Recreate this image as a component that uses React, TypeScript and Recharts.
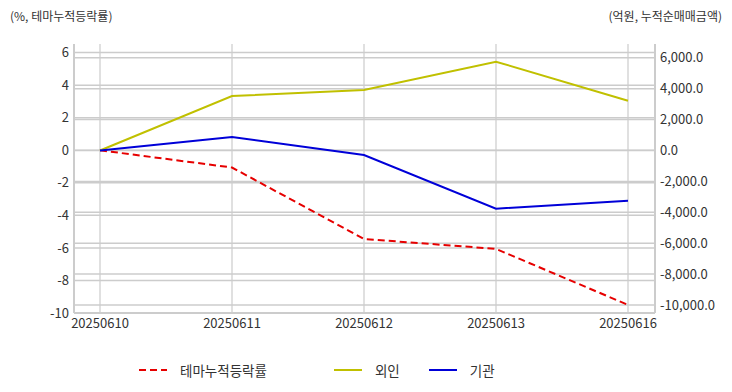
import { CartesianGrid, Legend, Line, LineChart, ReferenceLine, XAxis, YAxis } from "recharts";

const DATES = ["20250610", "20250611", "20250612", "20250613", "20250616"];
const THEME_RATE = [0, -1.06, -5.45, -6.06, -9.5];
const FOREIGN = [0, 3527, 3916, 5748, 3223];
const INSTITUTION = [0, 874, -291, -3767, -3249];

const LEFT_TICKS = [-10, -8, -6, -4, -2, 0, 2, 4, 6];
const RIGHT_TICKS = [-10000, -8000, -6000, -4000, -2000, 0, 2000, 4000, 6000];
const LEFT_DOMAIN = [-10, 6.53];
const RIGHT_DOMAIN = [-10518, 6893];

const data = DATES.map((d, i) => ({
  date: d,
  theme: THEME_RATE[i],
  foreign: FOREIGN[i],
  inst: INSTITUTION[i],
}));

const FONT = "'Noto Sans CJK KR', 'Noto Sans', sans-serif";
const TEXT = "#333";
const GRID = "#cccccc";
const RED = "#e60000";
const YELLOW = "#c0c000";
const BLUE = "#0000d8";

const tick = { fontSize: 13, fill: TEXT, fontFamily: FONT };

const fmtRight = (v: number) =>
  v.toLocaleString("en-US", { minimumFractionDigits: 1, maximumFractionDigits: 1 });

function LegendBox() {
  const item = (color: string, dashed: boolean, label: string, ml: number) => (
    <span style={{ display: "inline-flex", alignItems: "center", marginLeft: ml }}>
      <svg width={28} height={4}>
        <line
          x1={0}
          y1={2}
          x2={28}
          y2={2}
          stroke={color}
          strokeWidth={2}
          strokeDasharray={dashed ? "7 4" : undefined}
        />
      </svg>
      <span style={{ marginLeft: 13 }}>{label}</span>
    </span>
  );
  return (
    <div
      style={{
        fontFamily: FONT,
        fontSize: 13.5,
        color: TEXT,
        display: "flex",
        alignItems: "center",
        height: 36,
      }}
    >
      {item(RED, true, "테마누적등락률", 139)}
      {item(YELLOW, false, "외인", 67)}
      {item(BLUE, false, "기관", 29)}
    </div>
  );
}

export default function App() {
  return (
    <div style={{ position: "absolute", left: 0, top: 0, width: 732, height: 392, background: "#fff" }}>
      <div style={{ position: "absolute", left: 10, top: 7, fontFamily: FONT, fontSize: 12, color: TEXT }}>
        (%, 테마누적등락률)
      </div>
      <div style={{ position: "absolute", right: 10, top: 7, fontFamily: FONT, fontSize: 12, color: TEXT }}>
        (억원, 누적순매매금액)
      </div>
      <LineChart width={732} height={392} data={data} margin={{ top: 44, right: 0, left: 0, bottom: 4 }}>
        <CartesianGrid yAxisId="left" horizontal={false} stroke={GRID} strokeWidth={1.2} />
        {RIGHT_TICKS.map((t) => (
          <ReferenceLine key={t} yAxisId="right" y={t} stroke={GRID} strokeWidth={1.5} />
        ))}
        {LEFT_TICKS.map((t) => (
          <ReferenceLine key={"l" + t} yAxisId="left" y={t} stroke={GRID} strokeWidth={1.5} />
        ))}
        <XAxis
          dataKey="date"
          padding={{ left: 26, right: 27 }}
          height={39}
          tick={tick}
          tickLine={false}
          tickSize={0}
          tickMargin={6}
          axisLine={{ stroke: GRID, strokeWidth: 2 }}
          interval={0}
        />
        <XAxis
          xAxisId="top"
          dataKey="date"
          orientation="top"
          height={0}
          tick={false}
          tickLine={false}
          axisLine={{ stroke: GRID, strokeWidth: 2 }}
        />
        <YAxis
          yAxisId="left"
          width={74}
          domain={LEFT_DOMAIN}
          ticks={LEFT_TICKS}
          tick={tick}
          tickLine={false}
          tickSize={0}
          tickMargin={5}
          axisLine={{ stroke: GRID, strokeWidth: 2 }}
          allowDataOverflow
        />
        <YAxis
          yAxisId="right"
          orientation="right"
          width={77}
          domain={RIGHT_DOMAIN}
          ticks={RIGHT_TICKS}
          tickFormatter={fmtRight}
          tick={tick}
          tickLine={false}
          tickSize={0}
          tickMargin={5}
          axisLine={{ stroke: GRID, strokeWidth: 2 }}
          allowDataOverflow
        />
        <Legend verticalAlign="bottom" height={36} content={() => <LegendBox />} />
        <Line
          yAxisId="left"
          dataKey="theme"
          name="테마누적등락률"
          type="linear"
          stroke={RED}
          strokeWidth={2}
          strokeDasharray="7 4"
          dot={false}
          isAnimationActive={false}
        />
        <Line
          yAxisId="right"
          dataKey="foreign"
          name="외인"
          type="linear"
          stroke={YELLOW}
          strokeWidth={2}
          dot={false}
          isAnimationActive={false}
        />
        <Line
          yAxisId="right"
          dataKey="inst"
          name="기관"
          type="linear"
          stroke={BLUE}
          strokeWidth={2}
          dot={false}
          isAnimationActive={false}
        />
      </LineChart>
    </div>
  );
}
